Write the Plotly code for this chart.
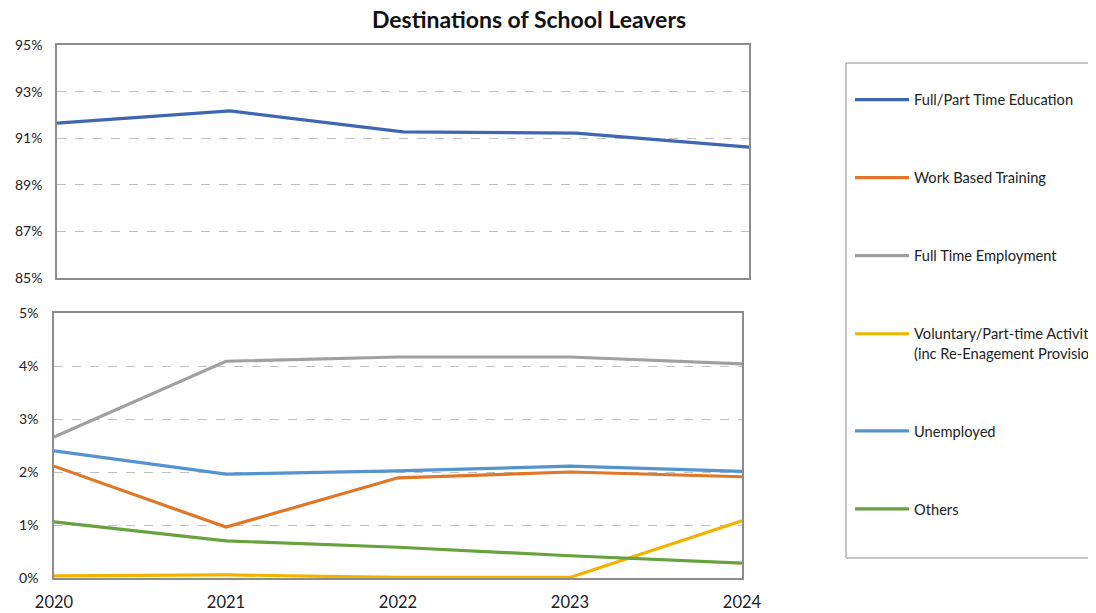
import plotly.graph_objects as go

years = [2020, 2021, 2022, 2023, 2024]
full_part_time_education = [91.65, 92.17, 91.27, 91.22, 90.62]
work_based_training = [2.11, 0.96, 1.89, 2.00, 1.91]
full_time_employment = [2.66, 4.09, 4.17, 4.17, 4.04]
voluntary_part_time = [0.04, 0.06, 0.01, 0.01, 1.08]
unemployed = [2.40, 1.96, 2.02, 2.11, 2.01]
others = [1.06, 0.70, 0.58, 0.42, 0.28]

top_ticks = [85, 87, 89, 91, 93, 95]
bottom_ticks = [0, 1, 2, 3, 4, 5]

series_bottom = [
    ("Work Based Training", work_based_training, "#E07628"),
    ("Full Time Employment", full_time_employment, "#A0A0A0"),
    ("Voluntary/Part-time Activities<br>(inc Re-Enagement Provision)", voluntary_part_time, "#F2B300"),
    ("Unemployed", unemployed, "#5593CF"),
    ("Others", others, "#67A23F"),
]

# page body has an 8px margin; figure coordinates = reference pixel - 8
OFF = 8
W, H = 1096 - OFF, 613 - OFF
FONT = "Lato"


def px_x(p):
    return (p - OFF) / W


def px_y(p):
    return 1 - (p - OFF) / H


fig = go.Figure()
fig.add_trace(go.Scatter(x=years, y=full_part_time_education, mode="lines",
                         name="Full/Part Time Education", legendgroup="g0",
                         line=dict(color="#3F66B3", width=3.2),
                         xaxis="x", yaxis="y"))
for i, (nm, vals, col) in enumerate(series_bottom):
    fig.add_trace(go.Scatter(x=years, y=vals, mode="lines", name=nm,
                             legendgroup=f"g{i+1}",
                             line=dict(color=col, width=3.2),
                             xaxis="x2", yaxis="y2"))

axis_common = dict(showline=True, mirror=True, linecolor="#8C8C8C", linewidth=1.5,
                   layer="below traces", zeroline=False)

# legend frame: left, top and bottom edges (right edge lies beyond the page)
lx0, lx1, ly0, ly1 = px_x(846), px_x(1120), px_y(558), px_y(63)
legend_frame = f"M {lx1},{ly1} L {lx0},{ly1} L {lx0},{ly0} L {lx1},{ly0}"

fig.update_layout(
    width=W, height=H,
    margin=dict(l=0, r=0, t=0, b=0, autoexpand=False),
    paper_bgcolor="white", plot_bgcolor="white",
    font=dict(family=FONT, color="#222222"),
    title=dict(text="<b>Destinations of School Leavers</b>", x=px_x(529), xanchor="center",
               y=px_y(20), yanchor="middle", font=dict(size=23, family=FONT, color="#111111")),
    xaxis=dict(domain=[px_x(57), px_x(749)], range=[2020, 2024], anchor="y",
               showticklabels=False, showgrid=False, ticks="", **axis_common),
    yaxis=dict(domain=[px_y(278), px_y(45)], range=[85, 95], anchor="x",
               tickvals=top_ticks, ticktext=[f"{t}%" for t in top_ticks],
               showgrid=True, gridcolor="#BFBFBF", griddash="dash", gridwidth=1,
               tickfont=dict(size=14, family=FONT), ticks="", ticklabelstandoff=10,
               **axis_common),
    xaxis2=dict(domain=[px_x(54), px_x(742)], range=[2020, 2024], anchor="y2",
                tickvals=years, ticktext=[str(y) for y in years],
                showgrid=False, ticks="", ticklabelstandoff=8,
                tickfont=dict(size=16.5, family=FONT), **axis_common),
    yaxis2=dict(domain=[px_y(578), px_y(313)], range=[0, 5], anchor="x2",
                tickvals=bottom_ticks, ticktext=[f"{t}%" for t in bottom_ticks],
                showgrid=True, gridcolor="#BFBFBF", griddash="dash", gridwidth=1,
                tickfont=dict(size=14, family=FONT), ticks="", ticklabelstandoff=11,
                **axis_common),
    legend=dict(x=px_x(850), xanchor="left", y=px_y(83.5), yanchor="top",
                traceorder="grouped", tracegroupgap=56, valign="top",
                bgcolor="rgba(0,0,0,0)", borderwidth=0, itemwidth=54,
                font=dict(size=14.67, family=FONT, color="#222222")),
    showlegend=True,
    shapes=[dict(type="path", xref="paper", yref="paper", path=legend_frame,
                 line=dict(color="#8C8C8C", width=1), layer="below")],
)

fig.write_html("out.html")
